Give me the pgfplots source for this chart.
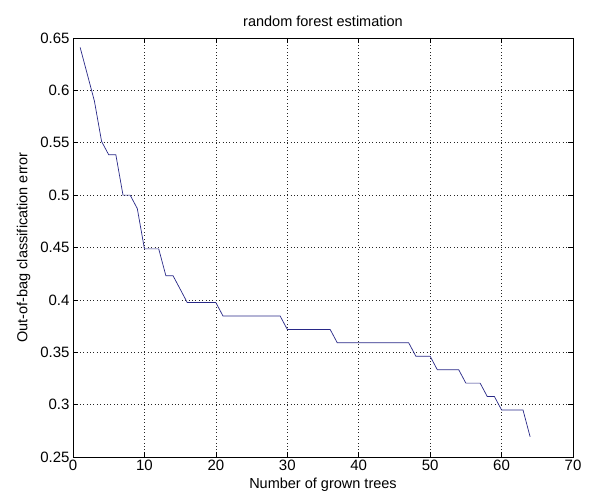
\documentclass[border=0pt]{standalone}
\usepackage{fontspec}
\setmainfont{Liberation Sans}
\usepackage{pgfplots}
\pgfplotsset{compat=1.18}
\definecolor{mline}{RGB}{40,40,135}
\begin{document}
\begin{tikzpicture}[x=1bp,y=1bp]
\path[use as bounding box] (0,0) rectangle (593,501);
\begin{axis}[
  at={(73bp,44bp)}, anchor=south west,
  width=500bp, height=419bp, scale only axis,
  xmin=0, xmax=70, ymin=0.25, ymax=0.65,
  xtick={0,10,20,30,40,50,60,70},
  ytick={0.25,0.3,0.35,0.4,0.45,0.5,0.55,0.6,0.65},
  yticklabels={0.25,0.3,0.35,0.4,0.45,0.5,0.55,0.6,0.65},
  tick align=inside, tick pos=both, major tick length=5bp,
  grid=major,
  major grid style={black!85, line width=0.6bp, dash pattern=on 0.8bp off 2.6bp},
  axis line style={black, line width=0.7bp},
  tick style={black, line width=0.7bp},
  /pgf/number format/assume math mode=true,
  tick label style={font=\fontsize{15bp}{18bp}\selectfont},
  label style={font=\fontsize{14.5bp}{17bp}\selectfont},
  title style={font=\fontsize{14.5bp}{17bp}\selectfont, yshift=2bp},
  title={random forest estimation},
  xlabel={Number of grown trees},
  ylabel={Out-of-bag classification error},
  ylabel style={yshift=3bp},
]
\addplot[mline, line width=0.7bp] coordinates {
  (1,0.6410) (2,0.6154) (3,0.5897) (4,0.5513) (5,0.5385) (6,0.5385)
  (7,0.5000) (8,0.5000) (9,0.4872) (10,0.4487) (11,0.4487) (12,0.4487)
  (13,0.4231) (14,0.4231) (15,0.4103) (16,0.3974) (17,0.3974) (18,0.3974)
  (19,0.3974) (20,0.3974) (21,0.3846) (22,0.3846) (23,0.3846) (24,0.3846)
  (25,0.3846) (26,0.3846) (27,0.3846) (28,0.3846) (29,0.3846) (30,0.3718)
  (31,0.3718) (32,0.3718) (33,0.3718) (34,0.3718) (35,0.3718) (36,0.3718)
  (37,0.3590) (38,0.3590) (39,0.3590) (40,0.3590) (41,0.3590) (42,0.3590)
  (43,0.3590) (44,0.3590) (45,0.3590) (46,0.3590) (47,0.3590) (48,0.3462)
  (49,0.3462) (50,0.3462) (51,0.3333) (52,0.3333) (53,0.3333) (54,0.3333)
  (55,0.3205) (56,0.3205) (57,0.3205) (58,0.3077) (59,0.3077) (60,0.2949)
  (61,0.2949) (62,0.2949) (63,0.2949) (64,0.2692)
};
\end{axis}
\end{tikzpicture}
\end{document}
